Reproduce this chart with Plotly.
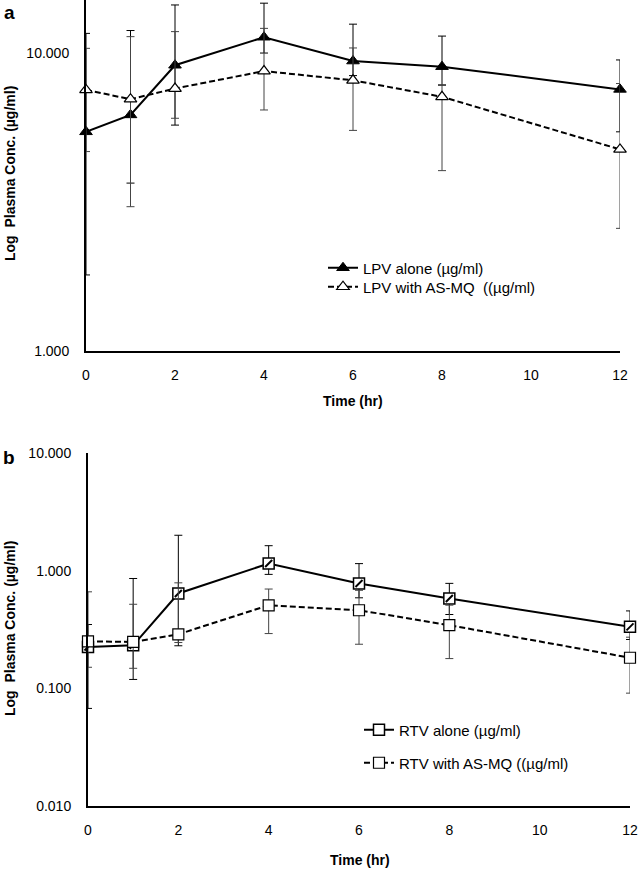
import plotly.graph_objects as go

# ---------------- data ----------------
times = [0, 1, 2, 4, 6, 8, 12]
x_ticks = [0, 2, 4, 6, 8, 10, 12]

# Panel a: LPV
lpv_alone = [5.44, 6.2, 9.1, 11.3, 9.4, 9.0, 7.55]
lpv_alone_plus = [6.2, 5.7, 5.4, 3.4, 3.1, 2.4, 1.93]
lpv_alone_minus = [3.64, 2.54, 3.37, 1.3, 1.0, 1.2, 2.11]
lpv_asmq = [7.52, 7.0, 7.6, 8.7, 8.1, 7.13, 4.75]
lpv_asmq_plus = [2.85, 4.35, 4.2, 3.4, 2.3, 0.7, 3.15]
lpv_asmq_minus = [2.85, 3.95, 1.56, 2.26, 2.6, 3.1, 2.17]

# Panel b: RTV
rtv_alone = [0.2245, 0.232, 0.64, 1.15, 0.778, 0.58, 0.333]
rtv_alone_plus = [0.124, 0.626, 1.36, 0.48, 0.37, 0.2, 0.122]
rtv_alone_minus = [0.157, 0.113, 0.41, 0.22, 0.19, 0.156, 0.073]
rtv_asmq = [0.251, 0.248, 0.288, 0.508, 0.461, 0.344, 0.182]
rtv_asmq_plus = [0.41, 0.27, 0.5, 0.19, 0.22, 0.165, 0.09]
rtv_asmq_minus = [0.1, 0.1, 0.043, 0.216, 0.224, 0.165, 0.091]

a_yticks = [1, 10]
a_yticktext = ["1.000", "10.000"]
b_yticks = [0.01, 0.1, 1, 10]
b_yticktext = ["0.010", "0.100", "1.000", "10.000"]

FONT = "Arial, 'Liberation Sans', sans-serif"
W, H = 638, 869

def err(plus, minus, color="black"):
    return dict(type="data", symmetric=False, array=plus, arrayminus=minus,
                color=color, thickness=1, width=4)

fig = go.Figure()

# ---- panel a ----
fig.add_trace(go.Scatter(
    x=times, y=lpv_alone, name="LPV alone (µg/ml)", mode="lines+markers",
    line=dict(color="black", width=2),
    marker=dict(symbol="triangle-up", size=11, color="black", line=dict(color="black", width=1)),
    error_y=err(lpv_alone_plus, lpv_alone_minus),
    xaxis="x", yaxis="y", legend="legend", cliponaxis=False))
fig.add_trace(go.Scatter(
    x=times, y=lpv_asmq, name="LPV with AS-MQ\u00a0\u00a0((µg/ml)", mode="lines+markers",
    line=dict(color="black", width=2, dash="6px,3px"),
    marker=dict(symbol="triangle-up", size=11, color="white", line=dict(color="black", width=1.2)),
    error_y=err(lpv_asmq_plus, lpv_asmq_minus, "#444"),
    xaxis="x", yaxis="y", legend="legend2", cliponaxis=False))

# ---- panel b ----
fig.add_trace(go.Scatter(
    x=times, y=rtv_alone, name="RTV alone (µg/ml)", mode="lines+markers",
    line=dict(color="black", width=2),
    marker=dict(symbol="square", size=11, color="white", line=dict(color="black", width=1.5)),
    error_y=err(rtv_alone_plus, rtv_alone_minus),
    xaxis="x2", yaxis="y2", legend="legend3", cliponaxis=False))
# hatch stroke inside the squares
fig.add_trace(go.Scatter(
    x=times, y=rtv_alone, mode="markers", showlegend=False, hoverinfo="skip",
    marker=dict(symbol="line-ne", size=7, line=dict(color="black", width=2)),
    xaxis="x2", yaxis="y2", cliponaxis=False))
fig.add_trace(go.Scatter(
    x=times, y=rtv_asmq, name="RTV with AS-MQ ((µg/ml)", mode="lines+markers",
    line=dict(color="black", width=2, dash="6px,3px"),
    marker=dict(symbol="square", size=11, color="white", line=dict(color="black", width=1.2)),
    error_y=err(rtv_asmq_plus, rtv_asmq_minus, "#444"),
    xaxis="x2", yaxis="y2", legend="legend4", cliponaxis=False))

axis_common = dict(showgrid=False, zeroline=False, showline=True, linecolor="black",
                   linewidth=2, ticks="", automargin=False,
                   tickfont=dict(family=FONT, size=14, color="black"))

def leg(xpx, ypx):
    return dict(x=xpx / W, y=(H - ypx) / H, xanchor="left", yanchor="middle",
                font=dict(family=FONT, size=15, color="black"),
                bgcolor="rgba(0,0,0,0)", borderwidth=0)

def ann(text, xpx, ypx, size, angle=0):
    return dict(text=text, x=xpx / W, y=(H - ypx) / H, xref="paper", yref="paper",
                xanchor="center", yanchor="middle", showarrow=False, textangle=angle,
                font=dict(size=size, family=FONT, color="black"))

fig.update_layout(
    width=W, height=H, margin=dict(l=0, r=0, t=0, b=0, autoexpand=False),
    paper_bgcolor="white", plot_bgcolor="white",
    font=dict(family=FONT, color="black"),
    xaxis=dict(domain=[86 / W, 620 / W], range=[0, 12], tickvals=x_ticks,
               anchor="y", ticklabelstandoff=10, **axis_common),
    yaxis=dict(domain=[(H - 351) / H, 1.0], type="log", range=[0, 1.178],
               tickvals=a_yticks, ticktext=a_yticktext, anchor="x",
               ticklabelstandoff=12, **axis_common),
    xaxis2=dict(domain=[88 / W, 630 / W], range=[0, 12], tickvals=x_ticks,
                anchor="y2", ticklabelstandoff=10, **axis_common),
    yaxis2=dict(domain=[(H - 806) / H, (H - 453) / H], type="log", range=[-2, 1],
                tickvals=b_yticks, ticktext=b_yticktext, anchor="x2",
                ticklabelstandoff=12, **axis_common),
    legend=leg(323, 268),
    legend2=leg(323, 287),
    legend3=leg(359, 730),
    legend4=leg(359, 763),
    annotations=[
        ann("<b>a</b>", 9, 13, 19),
        ann("<b>b</b>", 9, 457, 19),
        ann("<b>Log\u00a0 Plasma Conc. (µg/ml)</b>", 10, 174, 14, -90),
        ann("<b>Log\u00a0 Plasma Conc. (µg/ml)</b>", 10, 629, 14, -90),
        ann("<b>Time (hr)</b>", 353, 401, 14),
        ann("<b>Time (hr)</b>", 360, 860, 14),
    ],
)

fig.write_html("out.html", config={"displayModeBar": False},
               post_script="document.body.style.margin='0px';")
